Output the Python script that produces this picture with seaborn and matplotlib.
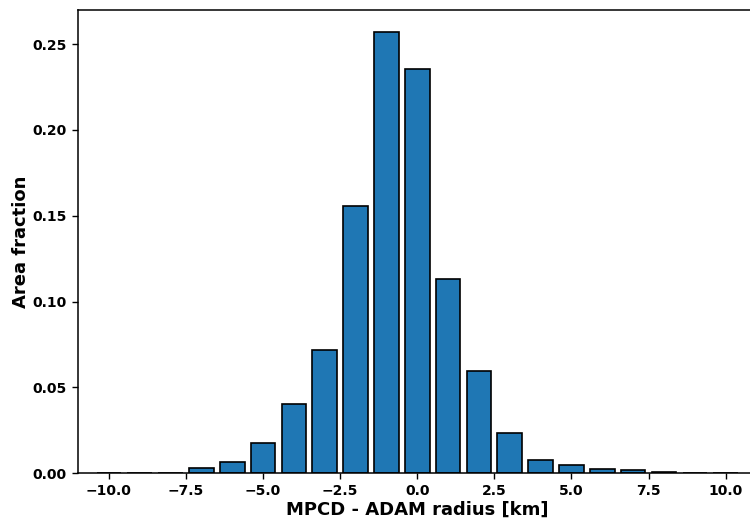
import matplotlib
matplotlib.use("Agg")
import matplotlib.pyplot as plt
import seaborn as sns
import pandas as pd

centers = [-10, -9, -8, -7, -6, -5, -4, -3, -2, -1, 0, 1, 2, 3, 4, 5, 6, 7, 8, 9, 10]
fractions = [0.0001, 0.0001, 0.0002, 0.0032, 0.0064, 0.0175, 0.0402, 0.0717, 0.1556,
             0.2570, 0.2357, 0.1130, 0.0594, 0.0233, 0.0079, 0.0046, 0.0023, 0.0019,
             0.0008, 0.0002, 0.0001]
xlabel = "MPCD - ADAM radius [km]"
ylabel = "Area fraction"

sns.set_style("ticks")
plt.rcParams['font.family'] = ['DejaVu Sans']
plt.rcParams['text.color'] = 'black'
plt.rcParams['axes.labelcolor'] = 'black'

df = pd.DataFrame({"x": centers, "y": fractions})

fig = plt.figure(figsize=(7.5, 5.21), dpi=100)
ax = fig.add_axes([0.104, 0.0916, 0.9047, 0.8892])
sns.barplot(data=df, x="x", y="y", native_scale=True, width=0.8,
            color="#1f77b4", saturation=1, edgecolor="black", linewidth=1.2, ax=ax)

ax.set_xlim(-11, 11)
ax.set_ylim(0, 0.2698)
ax.set_xticks([-10, -7.5, -5, -2.5, 0, 2.5, 5, 7.5, 10])
ax.set_xticklabels(["\u221210.0", "\u22127.5", "\u22125.0", "\u22122.5", "0.0", "2.5", "5.0", "7.5", "10.0"])
ax.set_yticks([0, 0.05, 0.10, 0.15, 0.20, 0.25])
ax.set_yticklabels(["0.00", "0.05", "0.10", "0.15", "0.20", "0.25"])
ax.set_xlabel(xlabel, fontsize=13, fontweight="bold", labelpad=2, color="black")
ax.set_ylabel(ylabel, fontsize=13, fontweight="bold", labelpad=2, color="black")
for lab in ax.get_xticklabels() + ax.get_yticklabels():
    lab.set_fontweight("bold")
ax.tick_params(axis="both", labelsize=10, length=4.5, width=1.0, colors="black")
for s in ax.spines.values():
    s.set_linewidth(1.1)
    s.set_color("black")

fig.savefig("out.png", dpi=100)
